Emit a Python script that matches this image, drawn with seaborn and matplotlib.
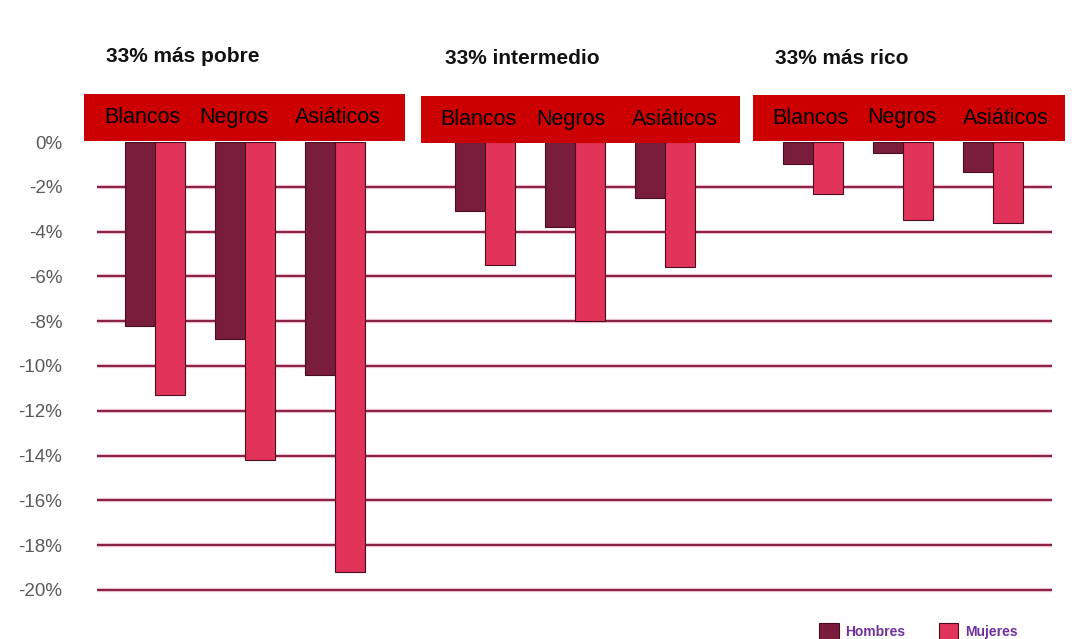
import matplotlib
matplotlib.use('Agg')
import matplotlib.pyplot as plt
import seaborn as sns
import pandas as pd
from matplotlib.patches import Rectangle

# ---------------- data ----------------
grupos = ['33% más pobre', '33% intermedio', '33% más rico']
etnias = ['Blancos', 'Negros', 'Asiáticos']
sexos = ['Hombres', 'Mujeres']
hombres_pobre = [-8.2, -8.8, -10.4]
mujeres_pobre = [-11.3, -14.2, -19.2]
hombres_inter = [-3.1, -3.8, -2.5]
mujeres_inter = [-5.5, -8.0, -5.6]
hombres_rico = [-1.0, -0.5, -1.35]
mujeres_rico = [-2.3, -3.5, -3.6]
yticks = [0, -2, -4, -6, -8, -10, -12, -14, -16, -18, -20]
ytick_labels = ['0%', '-2%', '-4%', '-6%', '-8%', '-10%', '-12%', '-14%', '-16%', '-18%', '-20%']

valores = {
    grupos[0]: (hombres_pobre, mujeres_pobre),
    grupos[1]: (hombres_inter, mujeres_inter),
    grupos[2]: (hombres_rico, mujeres_rico),
}
rows = []
for g in grupos:
    h, m = valores[g]
    for e, vh, vm in zip(etnias, h, m):
        rows.append({'grupo': g, 'etnia': e, 'sexo': 'Hombres', 'valor': vh})
        rows.append({'grupo': g, 'etnia': e, 'sexo': 'Mujeres', 'valor': vm})
df = pd.DataFrame(rows)

# ---------------- style ----------------
sns.set_style('white')
plt.rcParams['font.family'] = ['Liberation Sans', 'DejaVu Sans']

W, H = 1072, 639
fig = plt.figure(figsize=(W / 100, H / 100), dpi=100)
fig.patch.set_facecolor('white')

palette = {'Hombres': '#7a1c3c', 'Mujeres': '#e2345a'}

# axes layout in pixels: (left, right, xlim)
layout = [
    (97, 410, (-0.644, 2.833)),
    (410, 740, (-0.833, 2.833)),
    (740, 1052, (-0.811, 2.656)),
]
ax_top = 142
ax_bot = 596.7

axes = []
for i, (g, (l, r, xl)) in enumerate(zip(grupos, layout)):
    ax = fig.add_axes([l / W, 1 - ax_bot / H, (r - l) / W, (ax_bot - ax_top) / H])
    ax.set_facecolor('none')
    sub = df[df['grupo'] == g]
    sns.barplot(data=sub, x='etnia', y='valor', hue='sexo', order=etnias,
                hue_order=sexos, palette=palette, saturation=1, width=0.667, ax=ax,
                legend=(i == 0), edgecolor='#4a0c20', linewidth=0.8,
                errorbar=None, zorder=3)
    ax.hlines(yticks[1:], xl[0], xl[1], color='#f9d3dd', lw=3.2, zorder=1)
    ax.hlines(yticks[1:], xl[0], xl[1], color='#8a2346', lw=1.6, zorder=2)
    ax.set_xlim(*xl)
    ax.set_ylim(-20.3, 0)
    ax.set_yticks(yticks)
    ax.set_xticks([])
    ax.set_xlabel('')
    ax.set_ylabel('')
    for s in ax.spines.values():
        s.set_visible(False)
    if i == 0:
        ax.set_yticklabels(ytick_labels, color='#5a5a5a', fontsize=13.5)
        ax.tick_params(axis='y', length=0, pad=25)
    else:
        ax.tick_params(axis='y', length=0, labelleft=False)
    axes.append(ax)

handles, labels = axes[0].get_legend_handles_labels()
axes[0].legend_.remove()

# group titles
title_pos = [(106, 57), (445, 58), (775, 58)]
for g, (x, y) in zip(grupos, title_pos):
    fig.text(x / W, 1 - y / H, g, fontsize=15, fontweight='bold', color='#111111',
             ha='left', va='center')

# red header boxes with ethnic labels
boxes = [(84, 405, 94, 141), (421, 740, 96, 143), (753, 1065, 95, 141)]
label_x = [(142, 234, 338), (478, 571, 675), (810, 902, 1006)]
for (x0, x1, y0, y1), xs in zip(boxes, label_x):
    fig.patches.append(Rectangle((x0 / W, 1 - y1 / H), (x1 - x0) / W, (y1 - y0) / H,
                                 transform=fig.transFigure, facecolor='#cc0000',
                                 edgecolor='none', zorder=10))
    yc = (y0 + y1) / 2
    for e, xc in zip(etnias, xs):
        fig.text(xc / W, 1 - yc / H, e, fontsize=15.5, color='black',
                 ha='center', va='center', zorder=11)

# legend
leg = fig.legend(handles, labels, loc='upper left', bbox_to_anchor=(808 / W, 1 - 612 / H),
                 ncol=2, frameon=False, handlelength=1.4, handleheight=1.5,
                 handletextpad=0.5, columnspacing=2.4, borderpad=0.3,
                 prop={'weight': 'bold', 'size': 10}, labelcolor='#7030a0')

fig.savefig('out.png', dpi=100, facecolor='white')
